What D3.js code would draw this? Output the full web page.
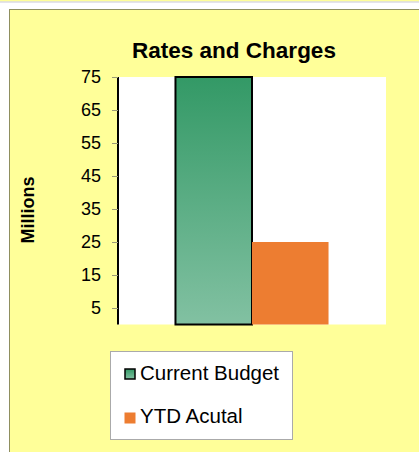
<!DOCTYPE html>
<html>
<head>
<meta charset="utf-8">
<script src="https://cdn.jsdelivr.net/npm/d3@7"></script>
<style>
  html, body { margin: 0; padding: 0; background: #fff; }
  svg { display: block; font-family: "Liberation Sans", Arial, sans-serif; }
</style>
</head>
<body>
<div id="chart"></div>
<script>
const title = 'Rates and Charges';
const yLabel = 'Millions';
const category = ['Rates and Charges'];
const seriesNames = ['Current Budget', 'YTD Acutal'];
const seriesValues = [75, 25];
const yTicks = [5, 15, 25, 35, 45, 55, 65, 75];

const width = 419, height = 452;
const plotLeft = 118, plotRight = 386, plotTop = 77, plotBottom = 324.5;

let svg = d3.select('#chart').append('svg')
    .attr('width', width)
    .attr('height', height);

let defs = svg.append('defs');
let grad = defs.append('linearGradient')
    .attr('id', 'budget-grad')
    .attr('x1', 0).attr('y1', 0).attr('x2', 0).attr('y2', 1);
grad.append('stop').attr('offset', '0%').attr('stop-color', '#339966');
grad.append('stop').attr('offset', '100%').attr('stop-color', '#82c1a2');

// frame
svg.append('rect').attr('x', 0).attr('y', 0).attr('width', width).attr('height', 1.5).attr('fill', '#ffff99');
svg.append('rect').attr('x', 0).attr('y', 1.5).attr('width', width).attr('height', 1).attr('fill', '#c8c8d8');
svg.append('rect')
    .attr('x', 9.5).attr('y', 9.5)
    .attr('width', width).attr('height', height)
    .attr('fill', '#ffff99')
    .attr('stroke', '#8f8f5f')
    .attr('stroke-width', 1);

// plot area
svg.append('rect')
    .attr('x', plotLeft).attr('y', plotTop)
    .attr('width', plotRight - plotLeft).attr('height', plotBottom - plotTop)
    .attr('fill', '#fff');

let Y = d3.scaleLinear().domain([0, 75]).range([plotBottom, plotTop]);
let X = d3.scaleBand().domain(category).range([plotLeft, plotRight]).padding(0.273);
let XS = d3.scaleBand().domain(seriesNames).range([0, X.bandwidth()]);
let fills = ['url(#budget-grad)', '#ed7d31'];
let strokes = ['#000', 'none'];

let bars = svg.append('g').attr('class', 'bars')
    .attr('transform', `translate(${X(category[0])},0)`);
bars.selectAll('rect')
    .data(seriesValues)
    .join('rect')
    .attr('x', (d, i) => XS(seriesNames[i]))
    .attr('y', d => Y(d))
    .attr('width', XS.bandwidth())
    .attr('height', d => Y(0) - Y(d))
    .attr('fill', (d, i) => fills[i])
    .attr('stroke', (d, i) => strokes[i])
    .attr('stroke-width', 2);

let yAxis = svg.append('g')
    .attr('transform', `translate(${plotLeft},0)`)
    .call(d3.axisLeft(Y).tickValues(yTicks).tickSize(6).tickPadding(11).tickSizeOuter(0));
yAxis.select('.domain').attr('stroke', '#000').attr('stroke-width', 2)
    .attr('d', `M0,${plotTop}V${plotBottom}`);
yAxis.selectAll('.tick line').attr('stroke', '#999977');
yAxis.selectAll('.tick text')
    .attr('fill', '#000')
    .style('font-size', '18px');

svg.append('text')
    .attr('x', 234).attr('y', 58)
    .attr('text-anchor', 'middle')
    .style('font-size', '22.5px')
    .style('font-weight', 'bold')
    .text(title);

svg.append('text')
    .attr('transform', 'translate(34,210) rotate(-90)')
    .attr('text-anchor', 'middle')
    .style('font-size', '18px')
    .style('font-weight', 'bold')
    .text(yLabel);

// legend
let legend = svg.append('g');
legend.append('rect')
    .attr('x', 110.5).attr('y', 351.5)
    .attr('width', 182).attr('height', 88)
    .attr('fill', '#fff')
    .attr('stroke', '#aaaaaa');
let items = legend.selectAll('g.item')
    .data(seriesNames)
    .join('g')
    .attr('class', 'item')
    .attr('transform', (d, i) => `translate(0,${i * 43})`);
items.append('rect')
    .attr('x', (d, i) => i === 0 ? 125 : 124.5)
    .attr('y', (d, i) => i === 0 ? 369 : 369.5)
    .attr('width', (d, i) => i === 0 ? 10 : 11)
    .attr('height', (d, i) => i === 0 ? 10 : 11)
    .attr('fill', (d, i) => fills[i])
    .attr('stroke', (d, i) => strokes[i])
    .attr('stroke-width', 1.5);
items.append('text')
    .attr('x', 140).attr('y', 380)
    .style('font-size', '20.5px')
    .text(d => d);
</script>
</body>
</html>
